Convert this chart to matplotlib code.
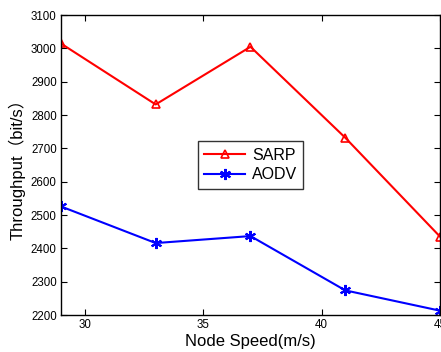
import numpy as np
import matplotlib
matplotlib.use('Agg')
import matplotlib.pyplot as plt

plt.rcParams['font.family'] = ['Liberation Sans', 'Noto Sans CJK SC', 'DejaVu Sans']

speed = [29, 33, 37, 41, 45]
sarp = [3015, 2832, 3005, 2732, 2435]
aodv = [2526, 2416, 2437, 2274, 2213]

fig = plt.figure(figsize=(4.41, 3.52), dpi=100)
ax = fig.add_axes([0.138, 0.105, 0.860, 0.852])

ax.plot(speed, sarp, color='red', lw=1.5, marker='^', ms=6, mfc='none', mew=1.2, label='SARP')
ax.plot(speed, aodv, color='blue', lw=1.5, marker=(6, 2, 0), ms=8, mew=1.5, label='AODV')

ax.set_xlim(29, 45)
ax.set_ylim(2200, 3100)
ax.set_xticks([30, 35, 40, 45])
ax.set_yticks(np.arange(2200, 3101, 100))
ax.tick_params(direction='in', top=True, right=True, labelsize=8.3, length=4, pad=3)
for s in ax.spines.values():
    s.set_linewidth(1.0)

ax.set_xlabel('Node Speed(m/s)', fontsize=12, labelpad=2)
ax.set_ylabel('Throughput（bit/s）', fontsize=12, labelpad=4)

leg = ax.legend(loc='center', fontsize=11.5, fancybox=False, framealpha=1,
                handlelength=2.6, borderpad=0.4, labelspacing=0.3, handletextpad=0.4)
leg.get_frame().set_edgecolor('#333333')
leg.get_frame().set_linewidth(1.0)

fig.savefig('out.png', dpi=100)
